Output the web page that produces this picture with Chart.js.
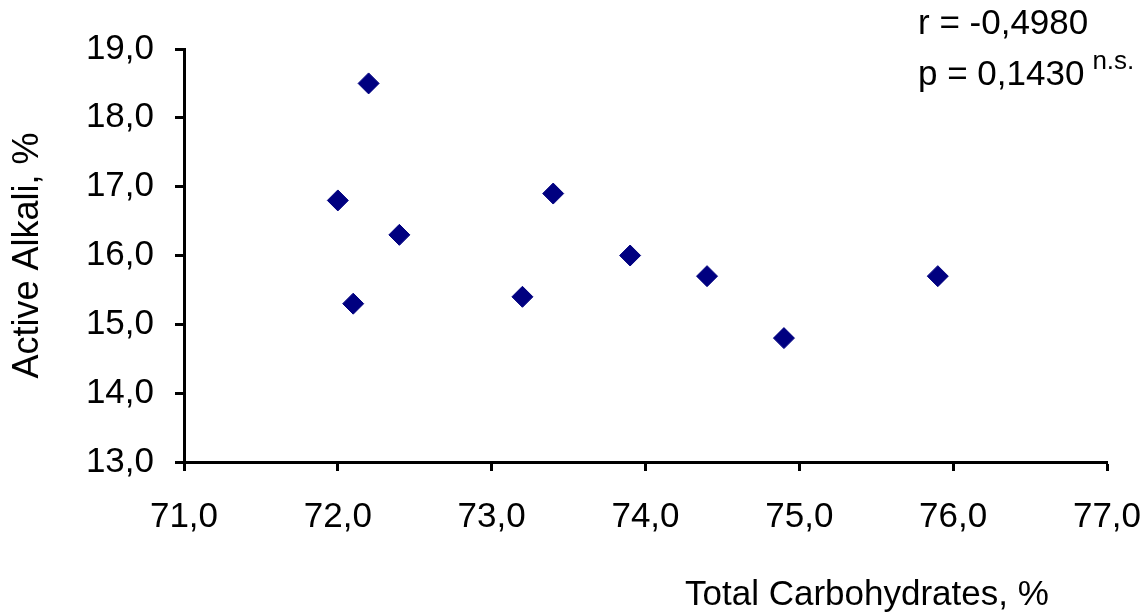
<!DOCTYPE html>
<html>
<head>
<meta charset="utf-8">
<script src="https://cdn.jsdelivr.net/npm/chart.js@4"></script>
<style>
  html, body { margin: 0; padding: 0; background: #fff; }
  #wrap { width: 1146px; height: 616px; }
</style>
</head>
<body>
<div id="wrap"><canvas id="c" width="1146" height="616"></canvas></div>
<script>
// total carbohydrates (%) vs active alkali (%)
const carbs = [72.0, 72.1, 72.2, 72.4, 73.2, 73.4, 73.9, 74.4, 74.9, 75.9];
const alkali = [16.8, 15.3, 18.5, 16.3, 15.4, 16.9, 16.0, 15.7, 14.8, 15.7];
const xRange = [71, 77];
const yRange = [13, 19];
const statR = 'r = -0,4980';
const statP = 'p = 0,1430';
const statNote = 'n.s.';
const xTitle = 'Total Carbohydrates, %';
const yTitle = 'Active Alkali, %';

const FONT = 'Arial, "Liberation Sans", sans-serif';
const comma = (v) => Number(v).toFixed(1).replace('.', ',');

// correlation text and x-axis caption
const notes = {
  id: 'notes',
  afterDraw(chart) {
    const ctx = chart.ctx;
    ctx.save();
    ctx.fillStyle = '#000';
    ctx.textBaseline = 'alphabetic';
    ctx.textAlign = 'left';
    ctx.font = '35px ' + FONT;
    ctx.fillText(statR, 918, 34);
    ctx.fillText(statP, 918, 85);
    const w = ctx.measureText(statP).width;
    ctx.font = '26px ' + FONT;
    ctx.fillText(statNote, 918 + w + 8, 69);
    ctx.font = '35px ' + FONT;
    ctx.fillText(xTitle, 685, 605);
    ctx.restore();
  },
};

new Chart(document.getElementById('c'), {
  type: 'scatter',
  data: {
    datasets: [{
      data: carbs.map((x, i) => ({ x, y: alkali[i] })),
      pointStyle: 'rectRot',
      pointRadius: 10.5,
      pointHoverRadius: 10.5,
      backgroundColor: '#000080',
      borderColor: '#000080',
      borderWidth: 1,
    }],
  },
  options: {
    responsive: false,
    animation: false,
    layout: { padding: { top: 49, right: 39, left: 0, bottom: 0 } },
    plugins: { legend: { display: false }, tooltip: { enabled: false } },
    scales: {
      x: {
        type: 'linear',
        min: xRange[0],
        max: xRange[1],
        afterFit: (s) => {
          s.height = 154;
          s.paddingLeft = 0;
          s.paddingRight = 0;
        },
        ticks: {
          stepSize: 1,
          color: '#000',
          font: { family: FONT, size: 35 },
          padding: 25,
          callback: comma,
        },
        grid: { drawOnChartArea: false, drawTicks: true, tickLength: 9, tickWidth: 3, tickColor: '#000' },
        border: { display: true, color: '#000', width: 3 },
      },
      y: {
        type: 'linear',
        min: yRange[0],
        max: yRange[1],
        afterFit: (s) => {
          s.width = 184;
          s.paddingTop = 0;
          s.paddingBottom = 0;
        },
        ticks: {
          stepSize: 1,
          color: '#000',
          font: { family: FONT, size: 35 },
          padding: 21,
          callback: comma,
        },
        title: {
          display: true,
          text: yTitle,
          color: '#000',
          font: { family: FONT, size: 36 },
          padding: { top: 6, bottom: 0 },
        },
        grid: { drawOnChartArea: false, drawTicks: true, tickLength: 9, tickWidth: 3, tickColor: '#000' },
        border: { display: true, color: '#000', width: 3 },
      },
    },
  },
  plugins: [notes],
});
</script>
</body>
</html>
